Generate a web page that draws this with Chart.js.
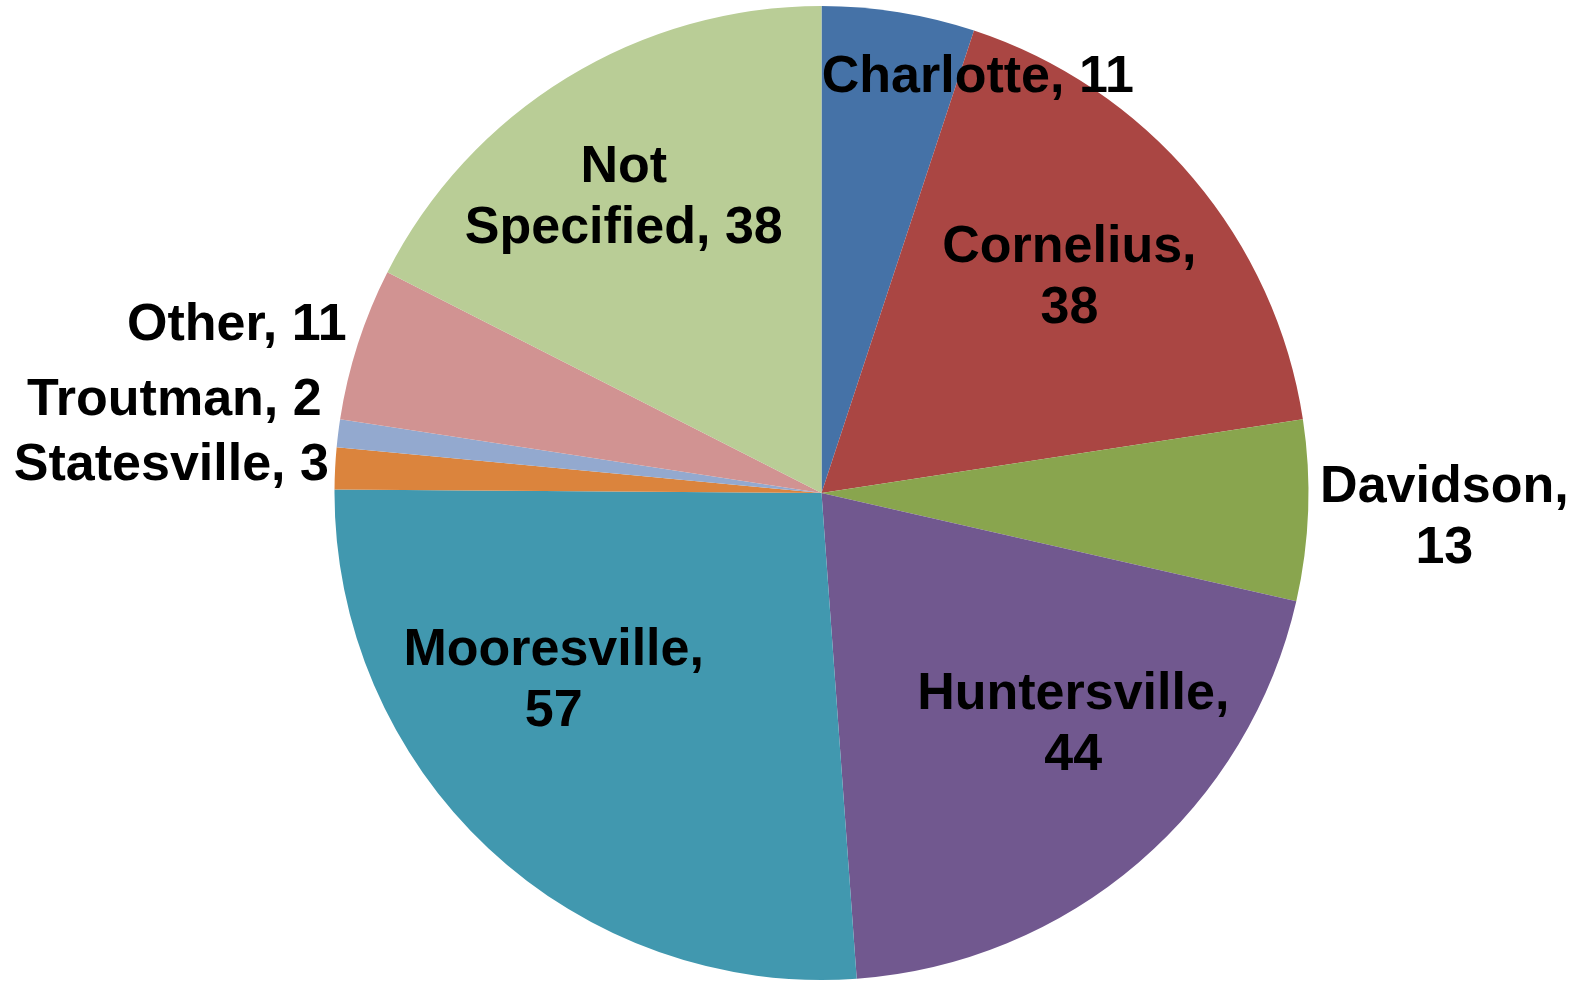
<!DOCTYPE html>
<html>
<head>
<meta charset="utf-8">
<script src="https://cdn.jsdelivr.net/npm/chart.js@4"></script>
<style>
  html, body { margin: 0; padding: 0; background: #fff; }
  #wrap { width: 1575px; height: 983px; }
</style>
</head>
<body>
<div id="wrap"><canvas id="myChart" width="1575" height="983"></canvas></div>
<script>
// data
const towns = ['Charlotte', 'Cornelius', 'Davidson', 'Huntersville', 'Mooresville',
  'Statesville', 'Troutman', 'Other', 'Not Specified'];
const counts = [11, 38, 13, 44, 57, 3, 2, 11, 38];

const colors = ['#4572A7', '#AA4643', '#89A54E', '#71588F', '#4198AF',
  '#DB843D', '#93A9CF', '#D19392', '#B9CD96'];

// how each label text is broken into lines
const labelLines = [
  ['Charlotte, 11'],
  ['Cornelius,', '38'],
  ['Davidson,', '13'],
  ['Huntersville,', '44'],
  ['Mooresville,', '57'],
  ['Statesville, 3'],
  ['Troutman, 2'],
  ['Other, 11'],
  ['Not', 'Specified, 38']
];
// label block centre, relative to pie centre in units of the radius
const labelPos = [
  [0.321, -0.861], [0.509, -0.450], [1.279, 0.042], [0.517, 0.468],
  [-0.550, 0.377], [-1.335, -0.065], [-1.329, -0.199], [-1.2006, -0.353],
  [-0.406, -0.615]
];

const FONT_PX = 52;
const LINE_H = 61;

const sliceLabels = {
  id: 'sliceLabels',
  afterDatasetsDraw(chart) {
    const ctx = chart.ctx;
    const arcs = chart.getDatasetMeta(0).data;
    ctx.save();
    ctx.font = 'bold ' + FONT_PX + 'px "Liberation Sans", Arial, sans-serif';
    ctx.fillStyle = '#000';
    ctx.textAlign = 'center';
    ctx.textBaseline = 'alphabetic';
    arcs.forEach((arc, i) => {
      const r = arc.outerRadius;
      const cx = arc.x + labelPos[i][0] * r;
      const cy = arc.y + labelPos[i][1] * r;
      const lines = labelLines[i];
      // cap middle of Arial bold sits ~0.358em above the baseline
      let y = cy - (lines.length - 1) * LINE_H / 2 + FONT_PX * 0.358;
      lines.forEach(t => {
        ctx.fillText(t, cx, y);
        y += LINE_H;
      });
    });
    ctx.restore();
  }
};

const ctx = document.getElementById('myChart').getContext('2d');
const chart = new Chart(ctx, {
  type: 'pie',
  data: {
    labels: towns,
    datasets: [{
      data: counts,
      backgroundColor: colors,
      borderWidth: 0,
      hoverOffset: 0,
      hoverBorderWidth: 0
    }]
  },
  options: {
    responsive: false,
    animation: false,
    layout: { padding: { top: 6, bottom: 3, left: 68, right: 0 } },
    plugins: {
      legend: { display: false },
      tooltip: { enabled: false }
    }
  },
  plugins: [sliceLabels]
});
</script>
</body>
</html>
